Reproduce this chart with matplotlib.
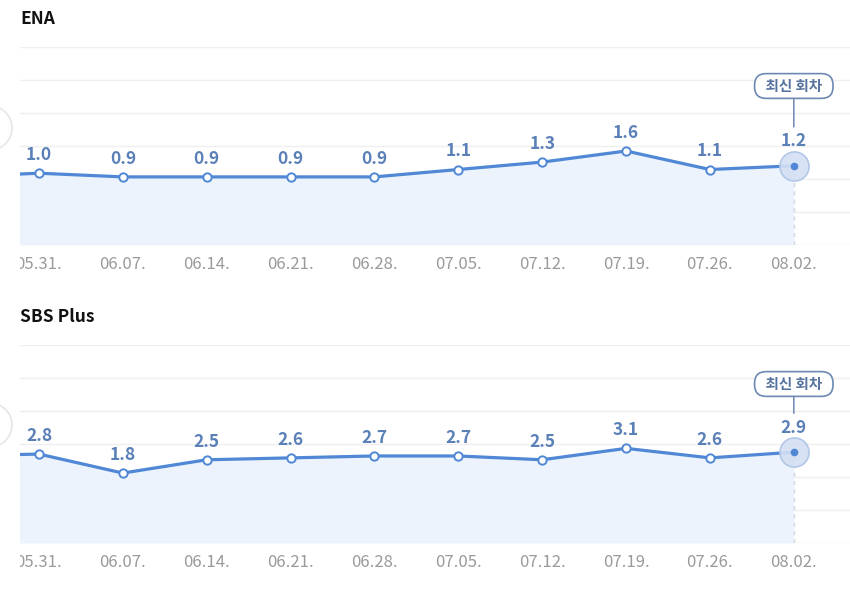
import matplotlib
matplotlib.use("Agg")
import matplotlib.pyplot as plt
from matplotlib.patches import Circle
from matplotlib.transforms import Bbox, TransformedBbox
import numpy as np

plt.rcParams['font.family'] = ['Noto Sans CJK KR', 'DejaVu Sans']

dates = ['05.24.', '05.31.', '06.07.', '06.14.', '06.21.', '06.28.',
         '07.05.', '07.12.', '07.19.', '07.26.', '08.02.']
ena_values = [0.9, 1.0, 0.9, 0.9, 0.9, 0.9, 1.1, 1.3, 1.6, 1.1, 1.2]
sbs_values = [2.7, 2.8, 1.8, 2.5, 2.6, 2.7, 2.7, 2.5, 3.1, 2.6, 2.9]
titles = ['ENA', 'SBS Plus']
badge_text = '최신 회차'

LINE = '#5088d6'
LABEL = '#5b80b8'
FILL = '#ecf3fc'
GRID = '#efefef'
TICK = '#9a9a9a'
BADGE = '#56739f'

W, H = 850, 595
fig = plt.figure(figsize=(W / 100, H / 100), dpi=100)

panels = [
    dict(values=ena_values, title=titles[0], top=47, ylim=(-0.94, 4.41), circle_y=128),
    dict(values=sbs_values, title=titles[1], top=345, ylim=(-1.88, 8.54), circle_y=425),
]
ax_h = 198
x = np.arange(len(dates)) - 1  # first date is just off the left edge
clip_bbox = TransformedBbox(Bbox([[20 / W, 0], [1, 1]]), fig.transFigure)

for p in panels:
    top = p['top']
    ax = fig.add_axes([20 / W, 1 - (top + ax_h) / H, 1 - 20 / W, ax_h / H])
    vals = np.array(p['values'])
    y0, y1 = p['ylim']
    for s in ax.spines.values():
        s.set_visible(False)
    # ticks first (set_ticks may expand the view limits)
    ax.set_yticks([])
    ax.set_xticks(x)
    ax.set_xticklabels(dates, fontsize=12, color=TICK)
    ax.tick_params(axis='x', length=0, pad=8)
    for lab in ax.get_xticklabels():
        lab.set_clip_box(clip_bbox)
        lab.set_clip_on(True)
    ax.set_xlim(-0.226, 9.67)
    ax.set_ylim(y0, y1)
    # grid
    for gy in np.linspace(y0, y1, 7):
        ax.axhline(gy, color=GRID, lw=1, zorder=0)
    # fill
    ax.fill_between(x, vals, y0, color=FILL, zorder=1, lw=0)
    # dashed line at latest point
    ax.plot([x[-1], x[-1]], [y0, vals[-1]], color='#d4d8de', lw=1,
            ls=(0, (3, 3)), zorder=2)
    # line
    ax.plot(x, vals, color=LINE, lw=2.3, zorder=3, solid_capstyle='round')
    ax.plot(x[:-1], vals[:-1], 'o', ms=6, mfc='white', mec=LINE, mew=1.4, zorder=4)
    # latest point highlight
    ax.plot(x[-1], vals[-1], 'o', ms=21, mfc='#d3dff3', mec='#adc3e6', mew=1.2,
            alpha=0.9, zorder=5)
    ax.plot(x[-1], vals[-1], 'o', ms=4.5, mfc=LINE, mec=LINE, zorder=6)
    # value labels
    for i in range(1, len(x)):
        off = 17.5 if i == len(x) - 1 else 13
        ax.annotate(f'{vals[i]:.1f}', (x[i], vals[i]), xytext=(0, off),
                    textcoords='offset points', ha='center', va='center',
                    fontsize=12.5, fontweight='bold', color=LABEL, zorder=7)
    # badge
    bx = x[-1]
    ax.annotate('  ' + badge_text + '  ', xy=(bx, vals[-1]), xycoords='data',
                xytext=(bx, 1 - 39 / ax_h),
                textcoords=('data', 'axes fraction'),
                ha='center', va='center', fontsize=10.5, color=BADGE,
                fontweight='bold',
                bbox=dict(boxstyle='round,pad=0.3,rounding_size=0.8',
                          fc='white', ec='#6d88b2', lw=1.2),
                zorder=8)
    ax.annotate('', xy=(bx, vals[-1]), xytext=(bx, 1 - 51 / ax_h),
                xycoords=('data', 'data'), textcoords=('data', 'axes fraction'),
                arrowprops=dict(arrowstyle='-', color='#6d88b2', lw=1.1,
                                shrinkA=0, shrinkB=28),
                zorder=7)
    # title
    fig.text(20 / W, 1 - (top - 28) / H, p['title'], fontsize=12.5,
             fontweight='bold', color='#111111', ha='left', va='center')
    # faint scroll button on the left edge
    c = Circle((-10 / 100, (H - p['circle_y']) / 100), 0.22,
               transform=fig.dpi_scale_trans, fc='white', ec='#e6e6e6', lw=1.2)
    fig.patches.append(c)

fig.savefig('out.png', dpi=100)
